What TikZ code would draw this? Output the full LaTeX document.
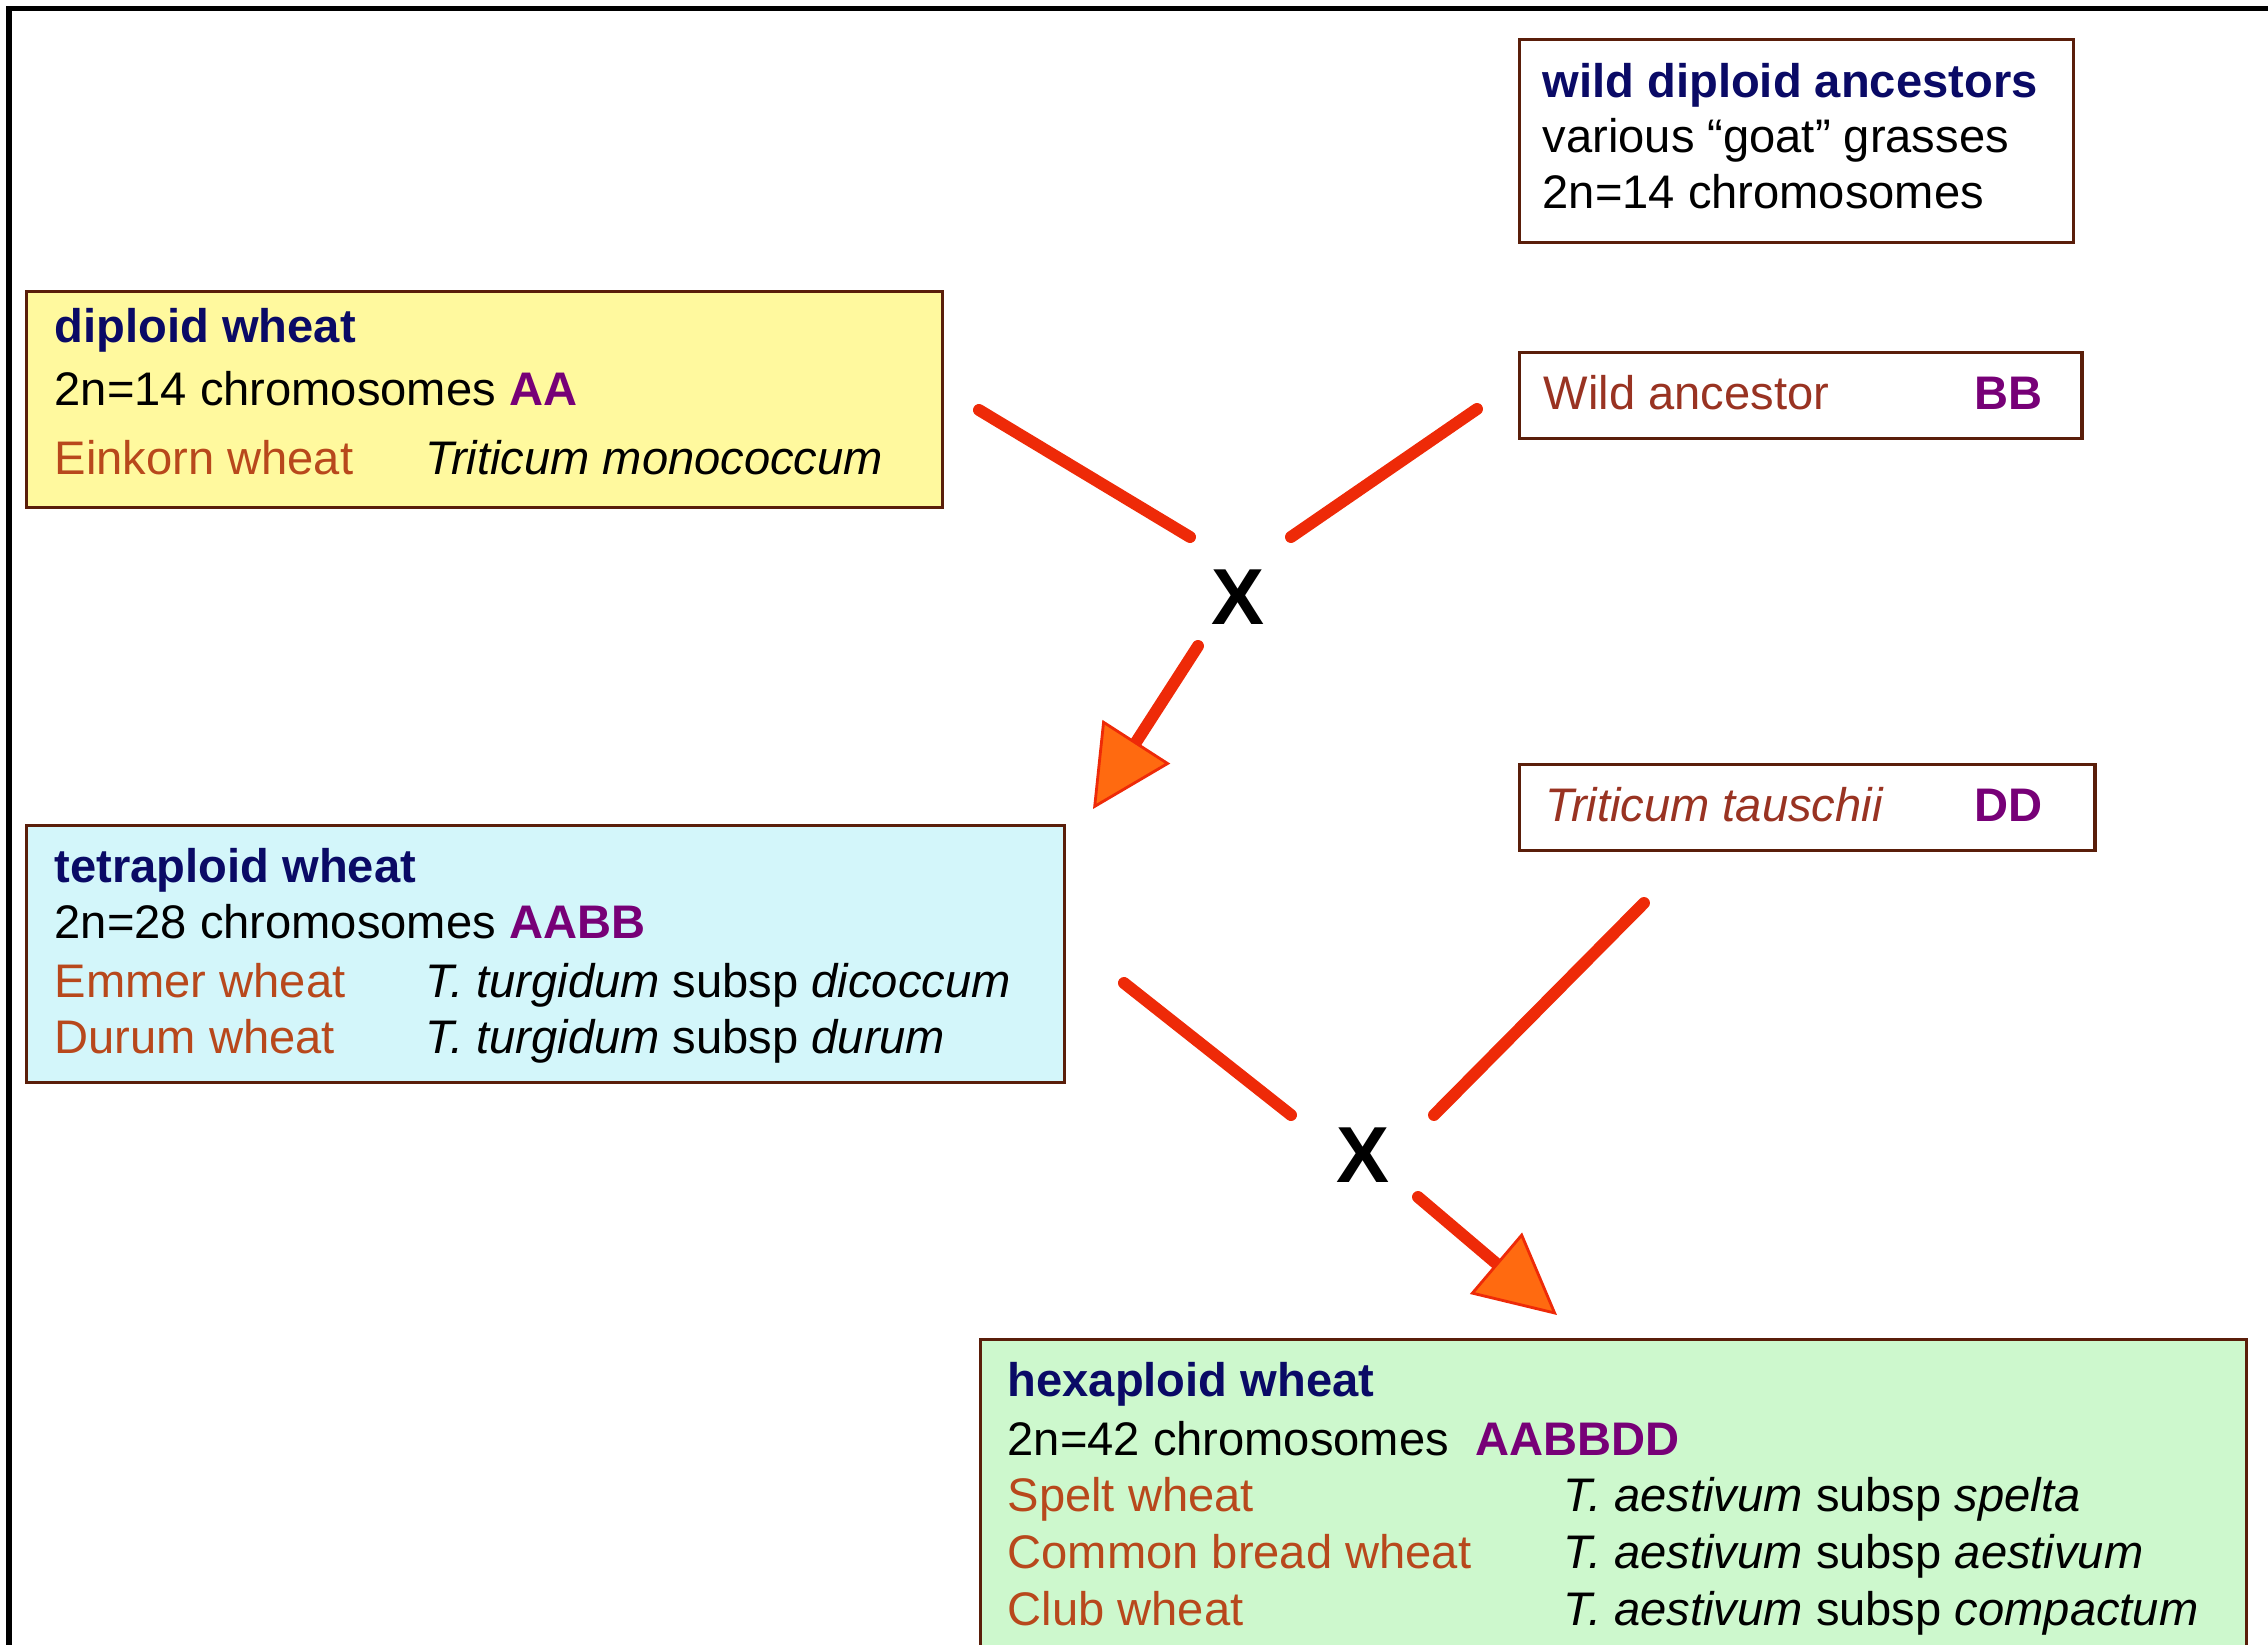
\documentclass[tikz,border=0pt]{standalone}
\usepackage{fontspec}
\setmainfont{Liberation Sans}
\usetikzlibrary{arrows.meta}

\definecolor{titleblue}{HTML}{0A0A66}
\definecolor{genome}{HTML}{770077}
\definecolor{cname}{HTML}{B8481C}
\definecolor{wname}{HTML}{993322}
\definecolor{boxedge}{HTML}{5A1E0A}
\definecolor{dipfill}{HTML}{FFF99E}
\definecolor{tetfill}{HTML}{D3F6FA}
\definecolor{hexfill}{HTML}{CDF8CD}
\definecolor{linered}{HTML}{EE2A08}
\definecolor{headorange}{HTML}{FF6A10}

\begin{document}
\begin{tikzpicture}
[
	x=0.01cm,y=-0.01cm,
	genbox/.style={draw=boxedge,line width=0.9pt,rectangle,inner sep=0pt,anchor=north west},
	txt/.style={inner sep=0pt,anchor=base west,font=\fontsize{13.4}{16}\selectfont},
	cross/.style={inner sep=0pt,font=\fontsize{22.6}{24}\selectfont\bfseries},
	redline/.style={draw=linered,line width=3.4pt,line cap=round},
	redarrow/.style={redline,-{Triangle[length=8mm,width=8mm,fill=headorange,line width=0.8pt]}}
]

	\clip (0,0) rectangle (2268,1645);

	% frame
	\draw[line width=1.5pt] (2268,8.5) -- (9,8.5) -- (9,1645);

	% boxes
	\node[genbox,fill=white,minimum width=5.54cm,minimum height=2.03cm] (wildbox) at (1518,38) {};
	\node[genbox,fill=dipfill,minimum width=9.15cm,minimum height=2.16cm] (dipbox) at (25,290) {};
	\node[genbox,fill=white,minimum width=5.62cm,minimum height=0.86cm] (bbbox) at (1518,351) {};
	\node[genbox,fill=white,minimum width=5.75cm,minimum height=0.86cm] (ddbox) at (1518,763) {};
	\node[genbox,fill=tetfill,minimum width=10.37cm,minimum height=2.57cm] (tetbox) at (25,824) {};
	\node[genbox,fill=hexfill,minimum width=12.65cm,minimum height=3.8cm] (hexbox) at (979,1338) {};

	% wild diploid ancestors
	\node[txt,titleblue] (wildtitle) at (1542,97) {\bfseries wild diploid ancestors};
	\node[txt] (wildgoat) at (1542,152) {various “goat” grasses};
	\node[txt] (wildchrom) at (1542,208) {2n=14 chromosomes};

	% diploid wheat
	\node[txt,titleblue] (diptitle) at (54,342) {\bfseries diploid wheat};
	\node[txt] (dipchrom) at (54,405) {2n=14 chromosomes \textcolor{genome}{\bfseries AA}};
	\node[txt,cname] (dipname) at (54,474) {Einkorn wheat};
	\node[txt] (diplatin) at (425,474) {\itshape Triticum monococcum};

	% BB and DD donors
	\node[txt,wname] (bbname) at (1543,409) {Wild ancestor};
	\node[txt,genome] (bbgen) at (1974,409) {\bfseries BB};
	\node[txt,wname] (ddname) at (1545,821) {\itshape Triticum tauschii};
	\node[txt,genome] (ddgen) at (1974,821) {\bfseries DD};

	% tetraploid wheat
	\node[txt,titleblue] (tettitle) at (54,882) {\bfseries tetraploid wheat};
	\node[txt] (tetchrom) at (54,938) {2n=28 chromosomes \textcolor{genome}{\bfseries AABB}};
	\node[txt,cname] (tetname1) at (54,997) {Emmer wheat};
	\node[txt] (tetlatin1) at (425,997) {\textit{T. turgidum} subsp \textit{dicoccum}};
	\node[txt,cname] (tetname2) at (54,1053) {Durum wheat};
	\node[txt] (tetlatin2) at (425,1053) {\textit{T. turgidum} subsp \textit{durum}};

	% hexaploid wheat
	\node[txt,titleblue] (hextitle) at (1007,1396) {\bfseries hexaploid wheat};
	\node[txt] (hexchrom) at (1007,1455) {2n=42 chromosomes~~\textcolor{genome}{\bfseries AABBDD}};
	\node[txt,cname] (hexname1) at (1007,1511) {Spelt wheat};
	\node[txt] (hexlatin1) at (1563,1511) {\textit{T. aestivum} subsp \textit{spelta}};
	\node[txt,cname] (hexname2) at (1007,1568) {Common bread wheat};
	\node[txt] (hexlatin2) at (1563,1568) {\textit{T. aestivum} subsp \textit{aestivum}};
	\node[txt,cname] (hexname3) at (1007,1625) {Club wheat};
	\node[txt] (hexlatin3) at (1563,1625) {\textit{T. aestivum} subsp \textit{compactum}};

	% crosses
	\node[cross] (cross1) at (1238,597) {X};
	\node[cross] (cross2) at (1363,1155) {X};

	\coordinate (dipout) at (979,410);
	\coordinate (dipin) at (1190,537);
	\coordinate (bbout) at (1477,409);
	\coordinate (bbin) at (1291,537);
	\coordinate (tetstart) at (1198,646);
	\coordinate (tettip) at (1093,809);

	\coordinate (tetout) at (1124,983);
	\coordinate (tetin) at (1291,1115);
	\coordinate (ddout) at (1644,903);
	\coordinate (ddin) at (1434,1115);
	\coordinate (hexstart) at (1418,1197);
	\coordinate (hextip) at (1557,1315);

	\draw[redline] (dipout) -- (dipin);
	\draw[redline] (bbout) -- (bbin);
	\draw[redarrow] (tetstart) -- (tettip);

	\draw[redline] (tetout) -- (tetin);
	\draw[redline] (ddout) -- (ddin);
	\draw[redarrow] (hexstart) -- (hextip);

\end{tikzpicture}
\end{document}
